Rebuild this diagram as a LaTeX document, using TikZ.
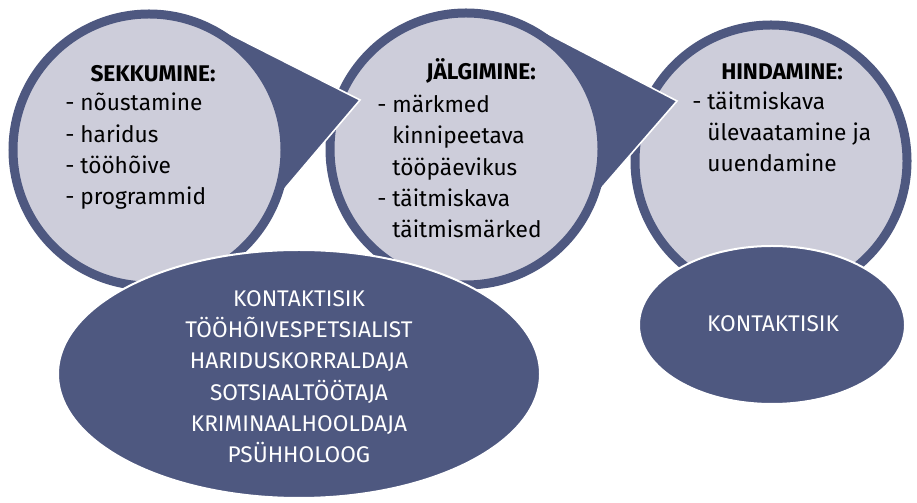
\documentclass[tikz,border=0pt]{standalone}
\usepackage{fontspec}
\setmainfont{Fira Sans}
\usetikzlibrary{calc}
\definecolor{slate}{RGB}{78,88,128}
\definecolor{mist}{RGB}{205,205,218}

\begin{document}
\begin{tikzpicture}[x=0.75pt,y=0.75pt,
        bubble/.style={fill=mist,draw=slate,line width=6.75pt},
        wedge/.style={fill=slate,draw=white,line width=1.2pt},
        staff/.style={fill=slate,draw=white,line width=1.5pt},
        head/.style={font=\bfseries\fontsize{17}{23.5}\selectfont,text=black,inner sep=0pt},
        items/.style={font=\fontsize{17}{23.5}\selectfont,text=black,align=left,inner sep=0pt},
        roles/.style={font=\fontsize{17}{23.5}\selectfont,text=white,align=center,inner sep=0pt}]

            \useasboundingbox (0,0) rectangle (917,503);

            % Define the sizes of the circles and pointers
            \def\rc{136}  % radius of circle (middle of border)
            \def\rw{140}  % radius where the pointer leaves the circle

            % Centres of the circles and ellipses
            \coordinate (S) at (149,353);
            \coordinate (J) at (466,354);
            \coordinate (H) at (771,342);
            \coordinate (K1) at (299,129);
            \coordinate (K2) at (772,178);

            % Draw the third circle
            \draw[bubble] (H) circle (\rc);

            % Draw pointer and second circle
            \draw[wedge] (J) -- ($(J)+(62:\rw)$) -- ($(J)+(211,48)$) -- ($(J)+(-17:\rw)$) -- cycle;
            \draw[bubble] (J) circle (\rc);

            % Draw pointer and first circle
            \draw[wedge] (S) -- ($(S)+(62:\rw)$) -- ($(S)+(211,50)$) -- ($(S)+(-17:\rw)$) -- cycle;
            \draw[bubble] (S) circle (\rc);

            % Draw the ellipses
            \draw[staff] (K1) ellipse [x radius=241, y radius=124];
            \draw[staff] (K2) ellipse [x radius=133, y radius=79];

            % Texts in the circles (base = last line)
            \node[head,anchor=base] (sekH) at (153,421) {SEKKUMINE:};
            \node[items,anchor=base west] (sekL) at (65,298) {- nõustamine\\- haridus\\- tööhõive\\- programmid};

            \node[head,anchor=base] (jalH) at (481,423) {JÄLGIMINE:};
            \node[items,anchor=base west] (jalL) at (377,265) {- märkmed\\\phantom{- }kinnipeetava\\\phantom{- }tööpäevikus\\- täitmiskava\\\phantom{- }täitmismärked};

            \node[head,anchor=base] (hinH) at (782,423) {HINDAMINE:};
            \node[items,anchor=base west] (hinL) at (692,331) {- täitmiskava\\\phantom{- }ülevaatamine ja\\\phantom{- }uuendamine};

            % Texts in the ellipses
            \node[roles,anchor=base] (staffA) at (299,40) {KONTAKTISIK\\TÖÖHÕIVESPETSIALIST\\HARIDUSKORRALDAJA\\SOTSIAALTÖÖTAJA\\KRIMINAALHOOLDAJA\\PSÜHHOLOOG};
            \node[roles,anchor=base] (staffB) at (773,171) {KONTAKTISIK};

\end{tikzpicture}
\end{document}
